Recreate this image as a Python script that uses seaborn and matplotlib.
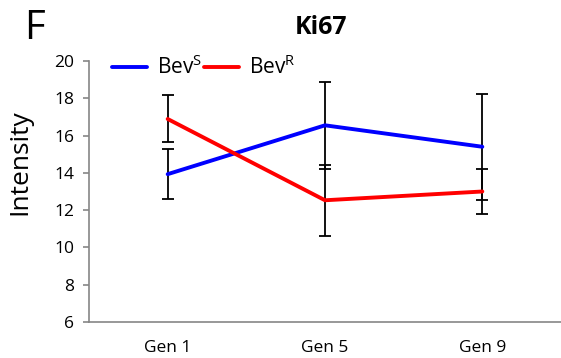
import matplotlib
matplotlib.use("Agg")
import matplotlib.pyplot as plt
import seaborn as sns
import pandas as pd

categories = ["Gen 1", "Gen 5", "Gen 9"]
bev_s = [13.93, 16.55, 15.40]
bev_s_err = [1.33, 2.34, 2.85]
bev_r = [16.89, 12.53, 13.00]
bev_r_err = [1.26, 1.90, 1.22]
series_labels = [r"Bev$^{\mathregular{S}}$", r"Bev$^{\mathregular{R}}$"]
yticks = [6, 8, 10, 12, 14, 16, 18, 20]

sns.set_style("white")
plt.rcParams["font.family"] = ["Open Sans", "DejaVu Sans"]
plt.rcParams["mathtext.default"] = "regular"
plt.rcParams["text.color"] = "black"
plt.rcParams["axes.labelcolor"] = "black"
plt.rcParams["xtick.labelcolor"] = "black"
plt.rcParams["ytick.labelcolor"] = "black"

df = pd.DataFrame({
    "x": list(range(len(categories))) * 2,
    "val": bev_s + bev_r,
    "err": bev_s_err + bev_r_err,
    "series": [series_labels[0]] * 3 + [series_labels[1]] * 3,
})

W, H = 561, 358
fig = plt.figure(figsize=(W / 100, H / 100), dpi=100)
ax = fig.add_axes([89 / W, 1 - 322 / H, 1 - 89 / W, (322 - 61) / H])

sns.lineplot(data=df, x="x", y="val", hue="series",
             palette={series_labels[0]: "#0000FF", series_labels[1]: "#FF0000"},
             linewidth=2.8, ax=ax, legend=True)
for s in series_labels:
    d = df[df.series == s]
    ax.errorbar(d.x, d.val, yerr=d.err, fmt="none", ecolor="black",
                elinewidth=1.3, capsize=4.5, capthick=1.3, zorder=1)

ax.set_xlim(-0.5, 2.487)
ax.set_ylim(6, 20)
ax.set_yticks(yticks)
ax.set_yticklabels([str(t) for t in yticks], fontsize=12.5)
ax.set_xticks([0, 1, 2])
ax.set_xticklabels(categories, fontsize=12.5)
ax.set_xticks([-0.5, 0.5, 1.5, 2.5], minor=True)
ax.tick_params(axis="x", which="major", length=0, pad=13)
ax.tick_params(axis="x", which="minor", length=4.5, color="#868686", width=1.2, direction="out")
ax.tick_params(axis="y", length=4.5, color="#868686", width=1.2, direction="out", pad=6, left=True)
for sp in ["top", "right"]:
    ax.spines[sp].set_visible(False)
for sp in ["left", "bottom"]:
    ax.spines[sp].set_color("#868686")
    ax.spines[sp].set_linewidth(1.2)

ax.set_xlabel("")
ax.set_ylabel("Intensity", fontsize=19, color="black")
ax.yaxis.set_label_coords((32 - 89) / 472, 1 - (162 - 61) / 261)

handles, labels = ax.get_legend_handles_labels()
leg = ax.legend(handles, labels, loc="center left",
                bbox_to_anchor=((112 - 89) / 472, 1 - (67 - 61) / 261),
                ncol=2, frameon=False, fontsize=15, handlelength=1.7,
                columnspacing=0.1, handletextpad=0.45, borderpad=0, borderaxespad=0)
for t in leg.get_texts():
    t.set_color("black")

fig.text(321 / W, 1 - 28 / H, "Ki67", fontsize=18, fontweight="bold",
         ha="center", va="center", color="black")
fig.text(34 / W, 1 - 29 / H, "F", fontsize=29, ha="center", va="center", color="black")

fig.savefig("out.png", dpi=100)
